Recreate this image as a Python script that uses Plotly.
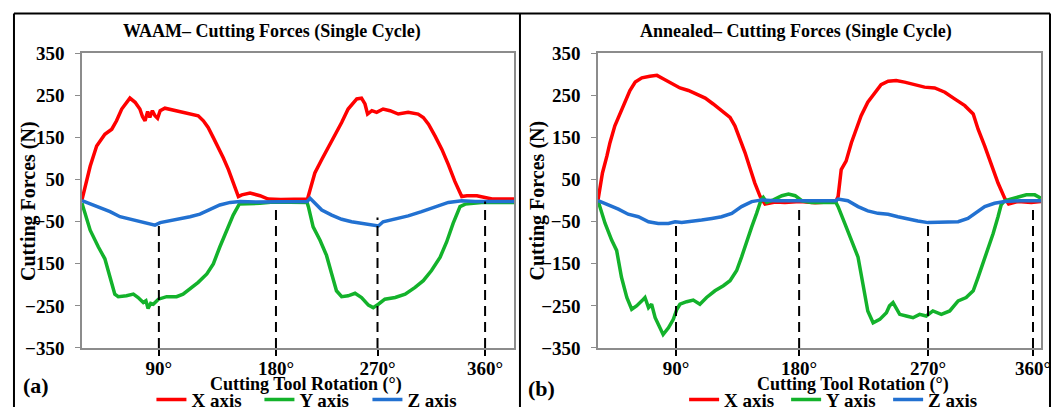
import plotly.graph_objects as go

# ---------------------------------------------------------------------------
# Data: cutting-force components over one tool revolution (time in % of record)
# ---------------------------------------------------------------------------

# WAAM panel
waam_x_t = [0, 1.9, 3.4, 5.3, 6.9, 8.0, 9.2, 10.3, 11.1, 12.3, 13.4, 14.0, 14.6, 15.2,
            15.7, 16.3, 16.9, 17.5, 18.1, 19.2, 21.1, 23.4, 25.8, 26.9, 28.1, 29.2,
            30.4, 31.6, 32.7, 33.9, 35.0, 36.2, 37.0, 38.9, 41.2, 43.1, 46.0, 52.2,
            52.8, 53.9, 55.5, 57.0, 58.6, 60.1, 61.6, 62.8, 63.6, 64.7, 65.5, 66.1,
            67.1, 68.2, 69.7, 71.3, 73.2, 75.5, 77.8, 79.0, 80.2, 81.7, 83.3, 84.8,
            86.3, 87.9, 89.1, 91.4, 93.3, 94.9, 100]
waam_x_f = [2, 82, 130, 158, 170, 190, 218, 234, 244, 234, 218, 200, 190, 212,
            198, 214, 202, 196, 214, 220, 216, 210, 206, 202, 190, 174,
            150, 126, 102, 74, 42, 10, 14, 18, 12, 4, 3, 4,
            26, 66, 98, 126, 156, 186, 218, 234, 242, 244, 230, 206,
            214, 210, 218, 214, 206, 210, 206, 198, 182, 154, 122, 86,
            46, 10, 12, 12, 8, 4, 4]

waam_y_t = [0, 1.9, 3.8, 5.3, 6.5, 7.6, 8.4, 10.3, 11.9, 13.0, 14.2, 14.8, 15.3,
            15.9, 16.5, 17.7, 19.6, 21.9, 23.4, 25.0, 26.9, 28.9, 30.4, 31.9, 33.5,
            35.0, 36.4, 38.1, 41.2, 44.3, 52.1, 52.4, 53.5, 55.1, 56.6, 57.8, 58.9,
            60.1, 61.6, 63.2, 64.7, 66.3, 67.4, 68.6, 70.1, 72.5, 74.8, 77.1, 79.0,
            80.9, 82.9, 84.4, 85.9, 87.5, 88.7, 92.5, 100]
waam_y_f = [-6, -70, -110, -138, -182, -222, -228, -226, -222, -230, -242, -238, -256,
            -244, -246, -234, -228, -228, -222, -210, -194, -174, -150, -110, -70,
            -34, -8, -8, -6, -3, -4, -14, -62, -94, -130, -174, -214,
            -228, -226, -220, -230, -248, -254, -246, -234, -230, -222, -206, -190,
            -166, -134, -98, -54, -14, -8, -4, -4]

waam_z_t = [0, 1.9, 4.2, 6.5, 8.8, 11.1, 13.4, 15.7, 16.9, 18.1, 20.4, 22.7, 25.0,
            27.3, 29.6, 31.9, 34.3, 36.6, 40.4, 52.1, 52.8, 53.9, 55.5, 57.8, 60.1,
            62.4, 64.7, 67.1, 68.6, 69.7, 72.5, 75.5, 78.6, 81.7, 84.8, 87.9, 91.0, 100]
waam_z_f = [0, -8, -18, -26, -38, -44, -50, -56, -58, -52, -48, -42, -38,
            -32, -20, -10, -4, -2, -3, -2, 6, -6, -22, -34, -44,
            -50, -54, -58, -60, -50, -44, -36, -26, -14, -4, 0, -2, -2]

# Annealed panel
ann_x_t = [0, 1.0, 2.0, 2.7, 3.8, 5.0, 6.1, 7.2, 8.4, 9.9, 11.7, 13.3, 14.7, 16.6,
           18.5, 20.4, 22.3, 24.2, 26.0, 27.9, 29.8, 30.9, 32.1, 33.2, 34.3, 35.4,
           36.6, 37.7, 40.0, 42.2, 45.6, 49.0, 53.7, 54.2, 54.9, 56.0, 57.2, 58.3,
           59.4, 60.9, 62.5, 63.9, 65.5, 67.3, 69.2, 71.5, 73.7, 76.0, 78.3, 80.5,
           82.8, 84.7, 85.8, 87.3, 88.8, 90.3, 91.8, 92.7, 94.8, 97.8, 100]
ann_x_f = [2, 66, 106, 138, 178, 206, 234, 262, 282, 292, 296, 298, 290, 278,
           268, 262, 254, 244, 230, 214, 198, 178, 146, 114, 78, 42,
           10, -8, -3, -4, -2, -5, -2, 10, 74, 94, 138, 170,
           202, 234, 258, 276, 284, 286, 282, 276, 270, 268, 258, 242,
           226, 206, 170, 130, 86, 42, 6, -8, -2, -4, -2]

ann_y_t = [0, 1.6, 3.1, 4.2, 5.3, 6.5, 7.6, 8.7, 9.9, 10.6, 11.4, 12.1, 12.9, 14.0,
           14.7, 15.9, 17.0, 17.8, 18.5, 20.0, 21.5, 23.0, 24.5, 26.4, 28.3, 29.8,
           31.3, 32.4, 33.6, 34.7, 35.8, 36.8, 37.3, 38.1, 39.6, 41.5, 43.0, 44.5,
           46.0, 48.2, 53.7, 54.2, 55.7, 57.2, 58.7, 59.8, 60.9, 62.1, 63.6, 65.1,
           65.8, 66.6, 67.3, 68.1, 69.6, 71.1, 72.6, 74.1, 75.6, 77.5, 79.4, 81.3,
           83.1, 84.7, 85.8, 86.9, 88.0, 89.2, 90.3, 91.0, 91.8, 93.3, 94.8, 96.7,
           98.6, 100]
ann_y_f = [0, -54, -94, -118, -182, -230, -258, -250, -238, -230, -254, -246, -278, -302,
           -318, -302, -282, -258, -246, -240, -236, -246, -230, -214, -202, -190,
           -166, -134, -94, -62, -30, 2, 8, -4, 2, 12, 16, 12,
           0, -4, -4, -14, -54, -94, -134, -198, -262, -290, -282, -266,
           -250, -242, -254, -270, -274, -278, -270, -274, -262, -270, -262, -238,
           -230, -214, -182, -150, -118, -78, -38, -10, 0, 4, 10, 14,
           14, 6]

ann_z_t = [0, 2.3, 4.6, 6.8, 9.1, 11.4, 13.6, 15.9, 17.4, 18.9, 21.2, 23.4, 25.7,
           27.9, 30.2, 32.4, 34.7, 37.0, 40.0, 53.7, 54.2, 56.4, 58.7, 60.9, 63.2,
           65.5, 67.7, 70.0, 72.2, 74.5, 76.7, 79.0, 81.3, 83.5, 85.0, 87.3, 89.5,
           91.8, 95.3, 100]
ann_z_f = [0, -10, -20, -32, -38, -50, -54, -54, -50, -52, -50, -46, -42,
           -38, -30, -14, -2, 2, 0, 0, 4, 0, -14, -24, -30,
           -32, -38, -44, -48, -52, -52, -50, -50, -42, -30, -14, -6,
           -2, 0, 0]

# Reference rotation angles marked on each record
angle_labels = ["90°", "180°", "270°", "360°"]
waam_angle_t = [17.8, 44.9, 68.4, 93.3]
waam_angle_top = [-46, -8, -40, -2]
ann_angle_t = [17.6, 45.4, 74.5, 98.2]
ann_angle_top = [-58, -14, -60, -12]

series_names = ["X axis", "Y axis", "Z axis"]
series_colors = ["#FF0000", "#13B22B", "#2271D1"]

FONT = "Liberation Serif"

# ---------------------------------------------------------------------------
fig = go.Figure()

panels = [
    dict(xa="x", ya="y", legend="legend",
         data=[(waam_x_t, waam_x_f), (waam_y_t, waam_y_f), (waam_z_t, waam_z_f)],
         angles=waam_angle_t, tops=waam_angle_top),
    dict(xa="x2", ya="y2", legend="legend2",
         data=[(ann_x_t, ann_x_f), (ann_y_t, ann_y_f), (ann_z_t, ann_z_f)],
         angles=ann_angle_t, tops=ann_angle_top),
]

for p in panels:
    for (t, f), name, color in zip(p["data"], series_names, series_colors):
        fig.add_trace(go.Scatter(
            x=t, y=f, mode="lines", name=name,
            line=dict(color=color, width=3.5),
            xaxis=p["xa"], yaxis=p["ya"], legend=p["legend"],
        ))
    # dashed markers at each reference angle
    for a, top in zip(p["angles"], p["tops"]):
        fig.add_shape(type="line", xref=p["xa"], yref=p["ya"],
                      x0=a, x1=a, y0=-350, y1=top,
                      line=dict(color="black", width=2, dash="10px,6px"))

tick_font = dict(family=FONT, size=19, color="black", weight="bold")

def x_axis(domain, vals):
    return dict(domain=domain, range=[0, 100], showgrid=False, zeroline=False,
                showline=True, linecolor="#8C8C8C", linewidth=1.5, mirror=True,
                tickmode="array", tickvals=vals, ticktext=angle_labels,
                ticks="outside", ticklen=6, tickwidth=2, tickcolor="black",
                ticklabelstandoff=-4, tickfont=tick_font)

def y_axis(domain, anchor):
    return dict(domain=domain, anchor=anchor, range=[-350, 350],
                tickmode="linear", tick0=-350, dtick=100,
                showgrid=False, zeroline=False,
                showline=True, linecolor="#8C8C8C", linewidth=1.5, mirror=True,
                ticks="outside", ticklen=5, tickcolor="#8C8C8C",
                ticklabelstandoff=7, tickfont=tick_font)

ydom = [0.145, 0.8686]
legend_font = dict(family=FONT, size=19, color="black", weight="bold")
fig.update_layout(
    width=1059, height=407, autosize=False,
    margin=dict(l=0, r=0, t=0, b=0, autoexpand=False),
    paper_bgcolor="white", plot_bgcolor="white",
    xaxis=x_axis([0.0774, 0.4854], waam_angle_t) | dict(anchor="y"),
    yaxis=y_axis(ydom, "x"),
    xaxis2=x_axis([0.5647, 0.9830], ann_angle_t) | dict(anchor="y2"),
    yaxis2=y_axis(ydom, "x2"),
    legend=dict(orientation="h", x=0.143, y=0.018, xanchor="left", yanchor="middle",
                font=legend_font, entrywidth=63, itemwidth=30,
                bgcolor="rgba(0,0,0,0)"),
    legend2=dict(orientation="h", x=0.646, y=0.018, xanchor="left", yanchor="middle",
                 font=legend_font, entrywidth=57, itemwidth=30,
                 bgcolor="rgba(0,0,0,0)"),
)

# panel frames
frame = dict(color="black", width=2)
fig.add_shape(type="line", xref="paper", yref="paper", x0=0.0132, x1=0.9915,
              y0=0.9668, y1=0.9668, line=frame)
for xp in [0.0132, 0.4910, 0.9915]:
    fig.add_shape(type="line", xref="paper", yref="paper", x0=xp, x1=xp,
                  y0=0, y1=0.9668, line=frame)

def label(text, x, y, size, angle=0):
    fig.add_annotation(text=text, x=x, y=y, xref="paper", yref="paper",
                       xanchor="center", yanchor="middle", showarrow=False,
                       textangle=angle,
                       font=dict(family=FONT, size=size, color="black", weight="bold"))

label("WAAM– Cutting Forces (Single Cycle)", 0.2568, 0.9214, 18)
label("Annealed– Cutting Forces (Single Cycle)", 0.7517, 0.9214, 18)
label("Cutting Tool Rotation (°)", 0.2890, 0.0541, 18)
label("Cutting Tool Rotation (°)", 0.8055, 0.0541, 18)
label("Cutting Forces (N)", 0.0269, 0.5074, 20, angle=-90)
label("Cutting Forces (N)", 0.5080, 0.5074, 20, angle=-90)
label("(a)", 0.034, 0.054, 22)
label("(b)", 0.511, 0.046, 22)

fig.write_html("out.html")
